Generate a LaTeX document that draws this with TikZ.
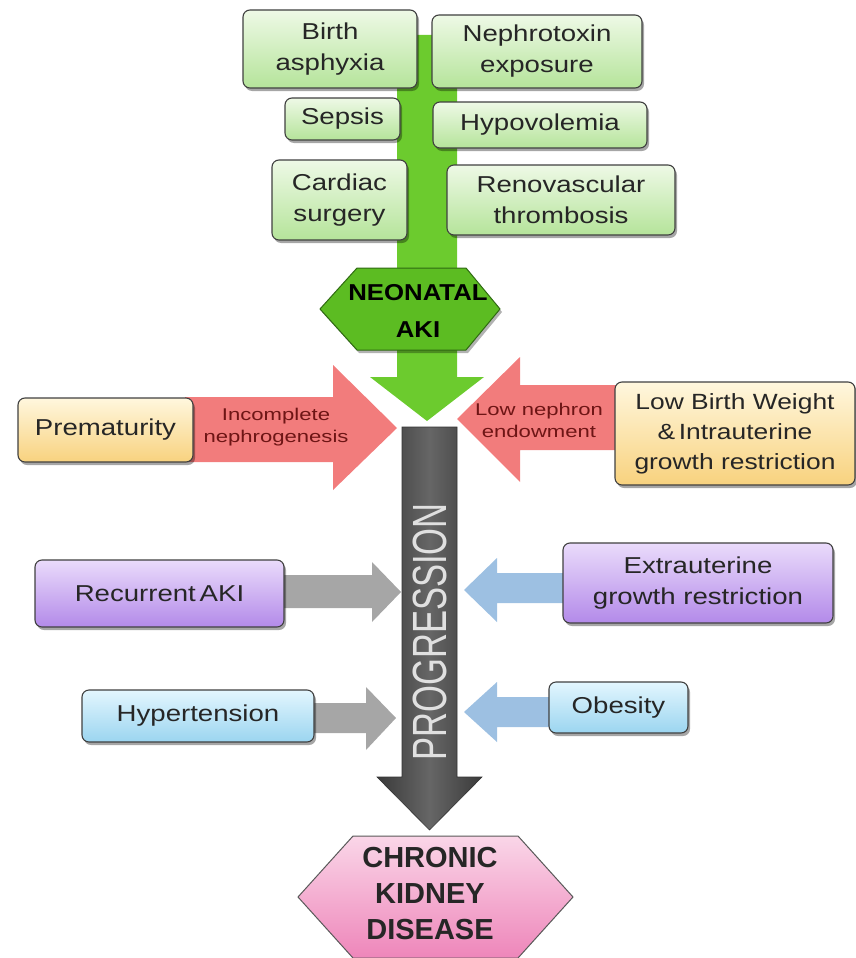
\documentclass[tikz,border=0pt]{standalone}
\usepackage{fontspec}
\setmainfont{Liberation Sans}
\newfontfamily\bx[FakeStretch=1.2]{Liberation Sans}
\newfontfamily\bxs[FakeStretch=1.3]{Liberation Sans}
\newfontfamily\bxh[FakeStretch=1.12]{Liberation Sans}
\newfontfamily\prog[FakeStretch=0.72]{Liberation Sans}
\usetikzlibrary{shadows}
\definecolor{gTop}{HTML}{EEF9E6}
\definecolor{gBot}{HTML}{B5E49A}
\definecolor{greenbar}{HTML}{6CCB2E}
\definecolor{neoFill}{HTML}{5CBC22}
\definecolor{neoLine}{HTML}{2F6A12}
\definecolor{redArrow}{HTML}{F27C7C}
\definecolor{redText}{HTML}{6E1515}
\definecolor{oTop}{HTML}{FFF7DE}
\definecolor{oBot}{HTML}{F8D27E}
\definecolor{pTop}{HTML}{EADBFB}
\definecolor{pBot}{HTML}{B38AE9}
\definecolor{bTop}{HTML}{E3F6FE}
\definecolor{bBot}{HTML}{9BD5F0}
\definecolor{greyArrow}{HTML}{A6A6A6}
\definecolor{blueArrow}{HTML}{9DC0E2}
\definecolor{darkMid}{HTML}{666666}
\definecolor{darkEdge}{HTML}{3A3A3A}
\definecolor{ckTop}{HTML}{FAD6E8}
\definecolor{ckBot}{HTML}{EE86BA}
\tikzset{
  box/.style={draw=black!75, line width=1.1pt, rounded corners=7pt, align=center,
    inner sep=0pt, text=black!85, font=\bx\fontsize{23}{31}\selectfont,
    drop shadow={shadow xshift=2pt, shadow yshift=-3pt, opacity=0.35, fill=black}},
  gbox/.style={box, top color=gTop, bottom color=gBot},
  obox/.style={box, top color=oTop, bottom color=oBot},
  pbox/.style={box, top color=pTop, bottom color=pBot},
  bbox/.style={box, top color=bTop, bottom color=bBot},
  lbl/.style={align=center, text=redText, font=\bxs\fontsize{17}{22}\selectfont, inner sep=0pt},
  hexlbl/.style={align=center, inner sep=0pt}
}
\begin{document}
\begin{tikzpicture}[x=1pt,y=-1pt]
\useasboundingbox (0,0) rectangle (856,958);

% green arrow (behind the cause boxes)
\path[fill=greenbar] (397,35) -- (457,35) -- (457,377) -- (484,377) -- (427,421) -- (370,377) -- (397,377) -- cycle;

% green cause boxes
\node[gbox, minimum width=174, minimum height=78] (ba) at (330,49) {Birth\\asphyxia};
\node[gbox, minimum width=210, minimum height=73] (ne) at (537,51.5) {Nephrotoxin\\exposure};
\node[gbox, minimum width=115, minimum height=42] (se) at (342.5,119) {Sepsis};
\node[gbox, minimum width=214, minimum height=46] (hy) at (540,125) {Hypovolemia};
\node[gbox, minimum width=135, minimum height=80] (cs) at (339.5,200) {Cardiac\\surgery};
\node[gbox, minimum width=228, minimum height=70] (rt) at (561,200) {Renovascular\\thrombosis};

% neonatal AKI hexagon
\path[fill=neoFill, draw=neoLine, line width=1pt, drop shadow={shadow xshift=2pt, shadow yshift=-3pt, opacity=0.3, fill=black}]
  (320,309) -- (357,268) -- (466,268) -- (500,309) -- (466,350) -- (357,350) -- cycle;
\node[hexlbl, text=black, font=\bxh\bfseries\fontsize{23}{37}\selectfont] (neo) at (418,311) {NEONATAL\\AKI};

% progression arrow
\path[left color=darkEdge, right color=darkEdge, middle color=darkMid, draw=black!80, line width=0.6pt]
  (402,427) -- (457,427) -- (457,777) -- (482,777) -- (429.5,830) -- (377,777) -- (402,777) -- cycle;
\node[rotate=90, text=black!12, font=\prog\fontsize{48}{48}\selectfont, inner sep=0pt] (prog) at (430,632) {PROGRESSION};

% red arrows
\path[fill=redArrow] (185,397) -- (333,397) -- (333,365) -- (397,428) -- (333,490) -- (333,462) -- (185,462) -- cycle;
\path[fill=redArrow] (625,385) -- (520,385) -- (520,357) -- (457,419) -- (520,482) -- (520,450) -- (625,450) -- cycle;
\node[lbl] (inc) at (276,427) {Incomplete\\nephrogenesis};
\node[lbl] (lne) at (539,420) {Low nephron\\endowment};

% orange boxes
\node[obox, minimum width=175, minimum height=64] (pre) at (105.5,430) {Prematurity};
\node[obox, minimum width=240, minimum height=103, font=\bx\fontsize{22}{30}\selectfont] (lbw) at (735,433.5) {Low Birth Weight\\\&\,Intrauterine\\growth restriction};

% grey and blue arrows
\path[fill=greyArrow] (280,575) -- (372,575) -- (372,562) -- (401,592) -- (372,622) -- (372,608) -- (280,608) -- cycle;
\path[fill=blueArrow] (567,573) -- (497,573) -- (497,558) -- (464,590) -- (497,622) -- (497,603) -- (567,603) -- cycle;
\path[fill=greyArrow] (310,703) -- (366,703) -- (366,687) -- (396,718) -- (366,750) -- (366,733) -- (310,733) -- cycle;
\path[fill=blueArrow] (553,697) -- (497,697) -- (497,682) -- (464,712) -- (497,742) -- (497,727) -- (553,727) -- cycle;

% purple boxes
\node[pbox, minimum width=249, minimum height=67] (rak) at (159.5,593.5) {Recurrent\,AKI};
\node[pbox, minimum width=270, minimum height=80] (eur) at (698,583) {Extrauterine\\growth restriction};

% blue boxes
\node[bbox, minimum width=232, minimum height=52] (hyp) at (198,716) {Hypertension};
\node[bbox, minimum width=139, minimum height=51] (obe) at (618.5,707.5) {Obesity};

% CKD hexagon
\path[top color=ckTop, bottom color=ckBot, draw=black!65, line width=1pt]
  (298,897) -- (353,836) -- (518,836) -- (573,897) -- (518,958) -- (353,958) -- cycle;
\node[hexlbl, text=black!85, font=\bfseries\fontsize{29}{36}\selectfont] (ckd) at (430,894) {CHRONIC\\KIDNEY\\DISEASE};
\end{tikzpicture}
\end{document}
